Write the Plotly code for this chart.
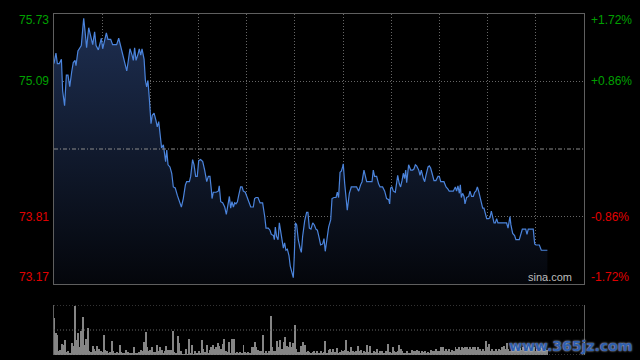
import plotly.graph_objects as go

# ---- data ----
prev_close = 74.45
y_ticks = [75.73, 75.09, 73.81, 73.17]
y_tick_labels = ["75.73", "75.09", "73.81", "73.17"]
pct_labels = ["+1.72%", "+0.86%", "-0.86%", "-1.72%"]

# minutes after the open (HK session, 330 minutes) and last price
minutes = [0.0,1.2,2.1,3.3,4.6,5.4,6.6,7.7,8.7,9.8,11.0,12.0,13.1,13.7,14.9,16.2,17.0,17.9,18.5,19.5,20.3,21.6,22.8,24.1,25.3,26.2,27.6,28.6,29.5,30.3,31.1,31.8,32.6,33.6,35.3,36.5,39.0,40.3,41.5,42.8,44.0,45.3,46.1,47.3,48.6,49.4,50.2,51.1,52.3,53.1,54.0,54.8,56.1,56.9,57.7,58.5,59.4,60.4,61.2,62.3,
    63.5,64.3,65.2,66.0,67.0,68.1,68.9,69.5,70.2,71.0,72.2,73.3,74.3,75.5,76.8,78.0,79.3,80.5,81.8,82.6,84.3,85.1,86.3,87.2,88.2,89.2,90.1,91.3,92.6,93.8,95.1,96.1,97.1,98.0,98.4,99.2,100.9,102.3,102.9,103.8,105.0,106.3,107.3,108.3,109.2,110.0,110.8,111.7,112.5,113.3,114.2,115.0,116.2,117.1,117.9,119.1,120.4,121.6,122.5,124.1,124.9,125.8,127.0,
    128.3,129.9,131.2,132.0,133.4,134.5,135.3,136.6,137.2,137.8,138.6,139.5,140.3,141.5,142.8,143.6,144.4,145.3,146.3,147.1,148.0,149.0,149.6,150.3,151.1,152.1,153.2,154.0,154.8,156.1,157.3,158.1,159.0,160.0,161.1,162.1,163.1,164.0,165.2,166.0,167.3,168.1,168.9,169.8,171.0,172.3,173.1,174.3,175.6,176.4,177.2,178.1,178.9,179.7,180.1,181.0,181.8,182.6,
    183.9,185.1,188.4,189.7,190.9,191.8,193.0,193.8,194.7,198.0,198.8,199.6,200.9,202.1,203.0,204.6,205.9,207.1,208.4,209.0,209.6,210.4,211.3,212.5,213.4,214.0,215.0,215.8,216.7,217.5,218.3,219.0,219.6,220.8,222.1,223.3,224.1,225.0,225.8,227.1,227.9,228.7,230.0,230.8,231.6,232.9,233.7,234.5,235.4,236.6,237.8,239.1,239.9,240.8,242.8,244.1,245.3,246.1,
    248.6,249.9,250.7,251.5,252.4,253.0,253.6,254.4,255.3,255.9,256.9,258.2,259.0,260.0,261.1,261.9,262.7,263.6,264.4,265.2,266.1,266.9,267.7,268.6,269.4,270.6,271.5,272.3,273.1,274.0,274.8,275.6,276.4,281.8,282.7,283.3,283.9,284.5,285.6,286.8,287.6,289.7,290.6,291.6,293.7,294.5,295.3,298.4,299.3,300.1,302.2,303.4,307.2]

prices = [75.26,75.36,75.26,75.26,75.30,75.00,74.86,75.15,75.15,75.04,75.18,75.27,75.29,75.24,75.38,75.41,75.43,75.59,75.69,75.54,75.41,75.60,75.52,75.44,75.56,75.43,75.39,75.46,75.50,75.40,75.45,75.49,75.55,75.49,75.49,75.44,75.44,75.50,75.43,75.35,75.26,75.19,75.27,75.40,75.34,75.29,75.41,75.29,75.35,75.40,75.34,75.40,75.30,75.10,75.04,75.10,74.92,74.69,74.77,74.79,
    74.72,74.66,74.71,74.60,74.46,74.49,74.42,74.33,74.44,74.30,74.28,74.22,74.09,74.08,74.01,73.95,73.90,73.98,74.11,74.14,74.14,74.19,74.35,74.30,74.19,74.19,74.34,74.35,74.33,74.25,74.14,74.19,74.19,74.06,73.98,74.04,74.04,74.05,74.10,73.95,73.94,73.90,73.83,73.92,74.00,73.89,73.95,73.90,73.94,73.93,73.95,74.01,74.09,74.09,74.05,74.04,73.98,73.92,73.90,73.90,73.98,73.99,73.99,
    73.94,73.94,73.81,73.70,73.70,73.68,73.64,73.63,73.59,73.71,73.62,73.59,73.75,73.65,73.51,73.56,73.49,73.50,73.44,73.34,73.29,73.23,73.43,73.75,73.73,73.59,73.51,73.47,73.62,73.77,73.85,73.85,73.70,73.69,73.75,73.73,73.69,73.68,73.60,73.54,73.55,73.60,73.48,73.59,73.71,73.78,73.98,73.99,73.99,74.04,73.99,74.23,74.24,74.28,74.31,74.12,73.95,73.87,
    74.03,74.09,74.09,74.05,74.11,74.14,74.25,74.19,74.14,74.14,74.25,74.19,74.19,74.12,74.09,74.09,74.05,73.98,73.97,73.93,74.08,74.09,74.05,74.04,74.12,74.20,74.12,74.09,74.15,74.22,74.17,74.25,74.13,74.30,74.25,74.25,74.26,74.30,74.29,74.25,74.20,74.25,74.17,74.14,74.20,74.28,74.29,74.27,74.22,74.15,74.15,74.19,74.19,74.14,74.14,74.09,74.07,74.05,
    74.05,74.09,74.05,74.10,74.03,74.11,73.99,74.03,74.00,73.93,73.99,74.00,74.05,74.00,74.00,74.04,74.05,74.09,74.05,74.00,73.95,73.89,73.89,73.83,73.79,73.79,73.80,73.86,73.79,73.75,73.75,73.79,73.75,73.75,73.70,73.75,73.81,73.73,73.65,73.63,73.59,73.59,73.63,73.69,73.69,73.64,73.69,73.69,73.55,73.54,73.54,73.49,73.49]

# per-minute volume (relative units, max ~100)
volumes = [74,44,41,9,11,23,21,31,6,8,5,24,19,99,31,44,16,48,77,21,
    33,55,8,6,19,13,8,19,13,9,6,41,11,8,3,6,29,9,4,6,
    4,21,6,3,4,11,6,4,5,3,17,5,3,6,11,8,26,46,17,9,
    11,16,6,7,21,9,17,11,4,9,19,11,11,11,49,6,3,39,25,9,
    1,1,13,1,33,3,21,1,8,3,9,4,31,13,6,21,4,11,17,21,
    13,16,25,19,13,23,33,9,6,26,3,33,33,3,6,4,6,4,21,6,
    4,6,4,16,16,26,17,11,9,8,41,4,8,4,9,79,16,9,9,29,
    16,31,13,26,37,19,16,27,16,24,61,13,6,6,19,26,21,6,9,6,
    4,6,9,4,8,
    4,9,4,6,29,4,11,13,6,13,6,15,4,6,11,8,11,31,9,6,
    17,9,6,8,19,8,11,4,8,6,21,6,19,4,8,6,13,4,9,8,
    4,3,8,23,6,4,17,8,6,9,21,13,8,4,4,8,4,4,11,9,
    8,11,9,4,8,6,8,4,6,4,11,9,8,13,9,8,16,17,9,13,
    9,13,6,11,9,16,13,17,11,17,15,17,16,13,17,13,17,16,11,16,
    13,9,13,9,29,16,23,9,13,9,13,8,13,11,17,19,13,24,
    13,9,16,11,19,13,8,15,11,17,9,14,12,18,10,13,16,9,12,15,11,14,9,12,10]
vol_minutes = list(range(len(volumes)))

# ---- style ----
GREEN = "#00a000"
RED = "#e00000"
GRID = "#666666"
BORDER = "#5f5f5f"
FONT = "Liberation Sans, Arial, sans-serif"
DOT = "1px,2px"

X0, X1 = 54 / 640, 584 / 640

fig = go.Figure()

fig.add_trace(go.Scatter(
    x=minutes, y=prices, mode="lines",
    line=dict(color="#4b84dc", width=1.2),
    fill="tozeroy",
    fillgradient=dict(type="vertical", start=73.17, stop=75.73,
                      colorscale=[[0, "rgb(4,6,11)"], [1, "rgb(30,47,82)"]]),
    hoverinfo="skip", showlegend=False, xaxis="x", yaxis="y"))

fig.add_trace(go.Bar(
    x=vol_minutes, y=volumes, width=0.6,
    marker=dict(color="#858585", line=dict(width=0)),
    hoverinfo="skip", showlegend=False, xaxis="x2", yaxis="y2"))

fig.update_layout(
    width=640, height=360,
    margin=dict(l=0, r=0, t=0, b=0),
    paper_bgcolor="black", plot_bgcolor="black",
    bargap=0,
    xaxis=dict(domain=[X0, X1], range=[0, 330], tickvals=list(range(0, 331, 30)),
               showticklabels=False, ticks="", showgrid=True, gridcolor=GRID,
               griddash=DOT, gridwidth=1, zeroline=False,
               showline=True, mirror=True, linecolor=BORDER, linewidth=1),
    yaxis=dict(domain=[(360 - 284) / 360, (360 - 14) / 360], range=[73.17, 75.73],
               tickvals=[75.09, 73.81], showticklabels=False, ticks="",
               showgrid=True, gridcolor=GRID, griddash=DOT, gridwidth=1,
               zeroline=False, showline=True, mirror=True, linecolor=BORDER, linewidth=1),
    xaxis2=dict(domain=[X0, X1], range=[0, 330], anchor="y2", showticklabels=False,
                ticks="", showgrid=False, zeroline=False, showline=False),
    yaxis2=dict(domain=[(360 - 355) / 360, (360 - 305) / 360], range=[0, 100],
                anchor="x2", showticklabels=False, ticks="", showgrid=False,
                zeroline=False, showline=True, mirror=True, linecolor=BORDER, linewidth=1),
)

# previous-close line
fig.add_shape(type="line", xref="x domain", yref="y", x0=0, x1=1,
              y0=prev_close, y1=prev_close,
              line=dict(color="#8c8c8c", width=1, dash="4px,2px,1px,2px"))
# volume panel dotted guides
for v in [100, 50, 0]:
    fig.add_shape(type="line", xref="x2 domain", yref="y2", x0=0, x1=1, y0=v, y1=v,
                  line=dict(color=GRID, width=1, dash=DOT))

shifts = [-6, 0, 0, 7]
for val, lab, pct, ys in zip(y_ticks, y_tick_labels, pct_labels, shifts):
    col = GREEN if val > prev_close else RED
    fig.add_annotation(x=X0, xref="paper", y=val, yref="y", text=lab,
                       showarrow=False, xanchor="right", yanchor="middle",
                       xshift=-3, yshift=ys,
                       font=dict(family=FONT, size=12, color=col))
    fig.add_annotation(x=X1, xref="paper", y=val, yref="y", text=pct,
                       showarrow=False, xanchor="left", yanchor="middle",
                       xshift=5, yshift=ys,
                       font=dict(family=FONT, size=12, color=col))

fig.add_annotation(x=X1, xref="paper", y=73.17, yref="y", text="sina.com",
                   showarrow=False, xanchor="right", yanchor="bottom",
                   xshift=-10, yshift=-1,
                   font=dict(family=FONT, size=11, color="#bdbdbd"))

fig.add_annotation(x=634 / 640, xref="paper", y=(360 - 346) / 360, yref="paper",
                   text="<b>www.365jz.com</b>", showarrow=False,
                   xanchor="right", yanchor="middle",
                   font=dict(family="DejaVu Sans, sans-serif", size=14, color="#2f5fae",
                             shadow="0px 0px 2px #dfe9ff"))

fig.write_html("out.html", config={"displayModeBar": False},
               post_script="document.body.style.margin='0';document.body.style.background='black';")
